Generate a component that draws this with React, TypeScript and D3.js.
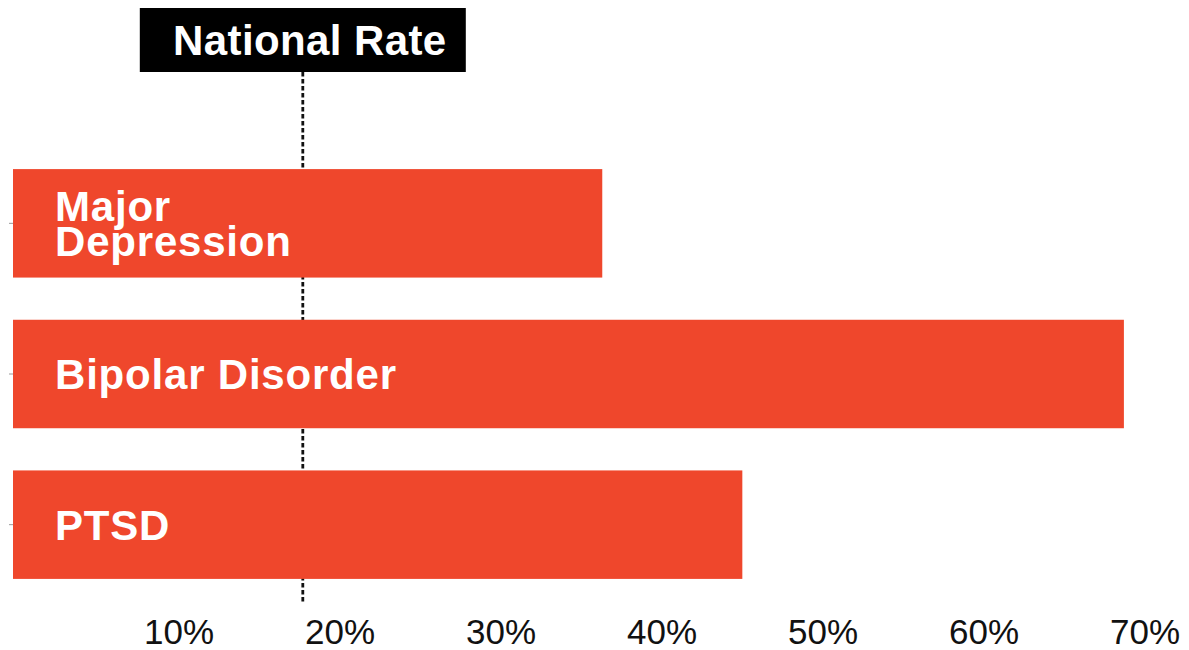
import React from "react";
import * as d3 from "d3";

const categories: string[] = ["Major Depression", "Bipolar Disorder", "PTSD"];
const labelLines: string[][] = [["Major", "Depression"], ["Bipolar Disorder"], ["PTSD"]];
const values: number[] = [36.6, 69.0, 45.3];
const nationalRate = 18.0;
const nationalLabel = "National Rate";
const tickValues: number[] = [10, 20, 30, 40, 50, 60, 70];
const tickLabels: string[] = ["10%", "20%", "30%", "40%", "50%", "60%", "70%"];

const W = 1189;
const H = 650;
const BAR_COLOR = "#EF472C";
const FONT = "'Liberation Sans', Arial, Helvetica, sans-serif";

export default function App() {
  const x = d3.scaleLinear().domain([0, 70]).range([13, 1140]);
  const y = d3
    .scaleBand<string>()
    .domain(categories)
    .range([148, 600])
    .paddingInner(0.28)
    .paddingOuter(0.14);
  const bw = y.bandwidth();
  const nx = x(nationalRate);
  const boxW = 326;

  return (
    <svg
      width={W}
      height={H}
      style={{ position: "absolute", left: 0, top: 0, background: "#fff" }}
    >
      {/* national rate dashed line */}
      <line
        x1={nx}
        x2={nx}
        y1={72}
        y2={604}
        stroke="#111"
        strokeWidth={2.8}
        strokeDasharray="4.5,2.5"
      />
      {/* bars */}
      {categories.map((c, i) => {
        const y0 = y(c) as number;
        const cy = y0 + bw / 2;
        const lines = labelLines[i];
        return (
          <g key={c}>
            <line x1={9} x2={13} y1={cy} y2={cy} stroke="#999" strokeWidth={1} />
            <rect x={x(0)} y={y0} width={x(values[i]) - x(0)} height={bw} fill={BAR_COLOR} />
            {lines.map((t, j) => (
              <text
                key={j}
                x={55}
                y={cy + 15 + (j - (lines.length - 1) / 2) * 35}
                fill="#fff"
                fontFamily={FONT}
                fontWeight="bold"
                fontSize={42}
                letterSpacing={0.8}
              >
                {t}
              </text>
            ))}
          </g>
        );
      })}
      {/* national rate label box */}
      <rect x={nx - boxW / 2} y={8} width={boxW} height={64} fill="#000" />
      <text
        x={nx + 7}
        y={55}
        textAnchor="middle"
        fill="#fff"
        fontFamily={FONT}
        fontWeight="bold"
        fontSize={42}
        letterSpacing={0.4}
      >
        {nationalLabel}
      </text>
      {/* x tick labels */}
      {tickValues.map((v, i) => (
        <text
          key={v}
          x={x(v) + 5}
          y={644}
          textAnchor="middle"
          fill="#111"
          fontFamily={FONT}
          fontSize={35}
        >
          {tickLabels[i]}
        </text>
      ))}
    </svg>
  );
}
